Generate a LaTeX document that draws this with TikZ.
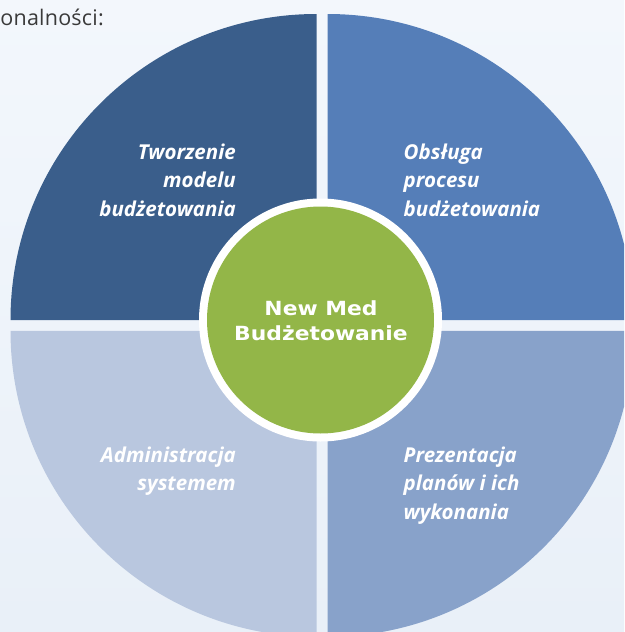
\documentclass[tikz,border=0pt]{standalone}
\usepackage{fontspec}
\setmainfont{Open Sans}
\newfontfamily\labfont{Open Sans}
\newfontfamily\headfont[LetterSpace=1]{Open Sans}
\newfontfamily\techfont[FakeStretch=1.12]{DejaVu Sans}
\definecolor{bgtop}{HTML}{F3F7FC}
\definecolor{bgbot}{HTML}{E9F0F8}
\definecolor{qtl}{HTML}{3A5E8B}
\definecolor{qtr}{HTML}{557EB8}
\definecolor{qbl}{HTML}{B9C7DF}
\definecolor{qbr}{HTML}{88A2CA}
\definecolor{cgreen}{HTML}{93B648}
\definecolor{txtgray}{HTML}{3A3A3A}
\tikzset{
  quadlab/.style={text=white, inner sep=0pt, font=\labfont\bfseries\itshape\fontsize{20.5}{24}\selectfont},
  rlab/.style={quadlab, anchor=base east},
  llab/.style={quadlab, anchor=base west},
  centerlab/.style={text=white, inner sep=0pt, anchor=base, font=\techfont\bfseries\fontsize{19.5}{24}\selectfont}
}
\begin{document}
\begin{tikzpicture}[x=1pt,y=-1pt]
\useasboundingbox (0,0) rectangle (624,632);
\begin{scope}
\clip (0,0) rectangle (624,632);
\shade[top color=bgtop, bottom color=bgbot] (0,0) rectangle (624,632);
% quadrants
\def\R{306}
\fill[qtl] (316.5,320) -- ++(-\R,0) arc[start angle=180, end angle=90, x radius=\R, y radius=-\R] -- cycle;
\fill[qtr] (327.5,320) -- ++(0,-\R) arc[start angle=90, end angle=0, x radius=\R, y radius=-\R] -- cycle;
\fill[qbl] (316.5,330.8) -- ++(0,\R) arc[start angle=270, end angle=180, x radius=\R, y radius=-\R] -- cycle;
\fill[qbr] (327.5,330.8) -- ++(\R,0) arc[start angle=0, end angle=-90, x radius=\R, y radius=-\R] -- cycle;
% top text
\node[anchor=base east, inner sep=0pt, text=txtgray, font=\headfont\fontsize{21.5}{24}\selectfont] (head) at (104,25) {onalności:};
\end{scope}
% centre
\node[circle, fill=white, minimum size=243pt, inner sep=0pt] (ring) at (320.5,320) {};
\node[circle, fill=cgreen, minimum size=227pt, inner sep=0pt] (hub) at (320.5,320) {};
\node[centerlab] (hub1) at (321,315) {New Med};
\node[centerlab] (hub2) at (321,340) {Budżetowanie};
% quadrant labels
\node[rlab] (tl1) at (236,159) {Tworzenie};
\node[rlab] (tl2) at (236,187.5) {modelu};
\node[rlab] (tl3) at (236,216) {budżetowania};
\node[llab] (tr1) at (403.5,159) {Obsługa};
\node[llab] (tr2) at (403.5,187.5) {procesu};
\node[llab] (tr3) at (403.5,216) {budżetowania};
\node[rlab] (bl1) at (236,462) {Administracja};
\node[rlab] (bl2) at (236,490.5) {systemem};
\node[llab] (br1) at (403.5,462) {Prezentacja};
\node[llab] (br2) at (403.5,490.5) {planów i ich};
\node[llab] (br3) at (403.5,519) {wykonania};
\end{tikzpicture}
\end{document}
